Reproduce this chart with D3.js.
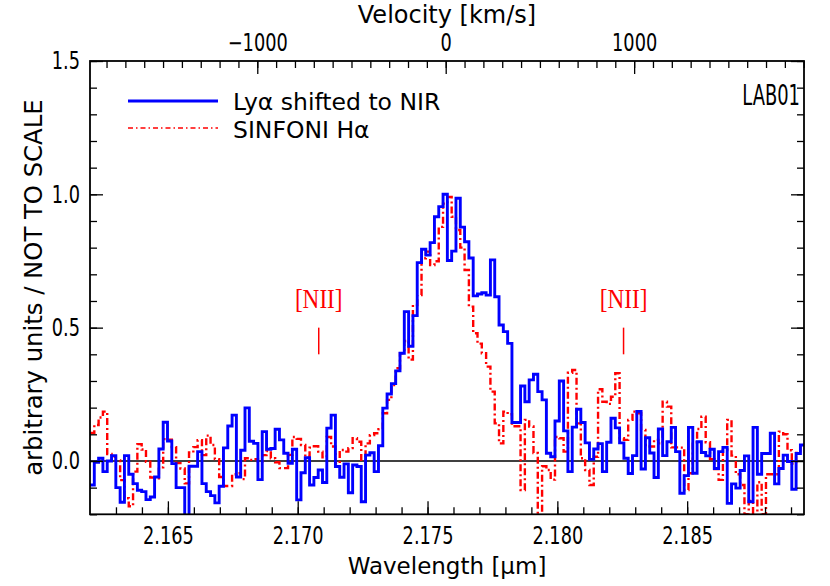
<!DOCTYPE html>
<html><head><meta charset="utf-8">
<script src="https://cdn.jsdelivr.net/npm/d3@7"></script>
<style>
body{margin:0;background:#fff;}
svg{display:block;}
text{font-family:"DejaVu Sans",sans-serif;}
</style></head><body>
<svg id="c" width="830" height="586"></svg>
<script>
// ---------------- data ----------------
const binStart = 2.162;       // μm, left edge of first bin
const binStep = 0.00016583;   // μm per bin
const lyaValues = [
 -0.09,-0.005,0.01,-0.04,0.0,0.02,-0.10,-0.155,0.02,-0.05,
 -0.085,-0.11,-0.115,-0.145,-0.135,-0.06,0.045,0.145,0.075,-0.01,
 -0.10,-0.10,-0.25,-0.02,-0.02,0.035,-0.085,-0.115,-0.13,-0.157,
 -0.095,0.049,0.131,0.172,-0.06,0.04,0.199,0.074,0.066,-0.07,
 0.11,0.044,0.047,0.119,0.079,0.029,-0.009,0.044,-0.146,-0.044,
 0.012,-0.09,-0.062,-0.034,-0.081,0.123,0.172,-0.021,-0.061,-0.011,
 -0.119,-0.015,-0.021,-0.153,0.022,0.031,-0.04,0.057,0.198,0.251,
 0.29,0.338,0.404,0.56,0.43,0.545,0.744,0.794,0.772,0.819,
 0.916,0.954,1.0,0.752,0.787,0.985,0.877,0.822,0.761,0.619,
 0.626,0.631,0.622,0.754,0.616,0.51,0.485,0.441,0.144,0.144,
 0.281,0.222,0.304,0.325,0.26,0.229,0.029,0.016,0.15,0.3,
 0.113,-0.04,0.127,0.194,0.144,0.068,0.006,0.045,0.065,-0.04,
 0.07,0.16,0.124,0.068,0.01,-0.047,0.02,0.186,-0.03,0.087,
 0.03,-0.062,0.12,0.02,0.072,0.126,0.035,-0.121,-0.055,0.126,
 -0.046,0.072,0.032,0.019,0.044,-0.028,0.035,0.051,-0.159,-0.086,
 -0.102,-0.036,0.019,-0.153,0.126,-0.05,0.028,0.028,0.104,-0.086,
 -0.028,0.022,-0.002,-0.106,0.028,0.06
];
const haValues = [
 0.105,0.135,0.163,0.185,0.026,0.016,0.002,-0.072,-0.14,-0.17,
 -0.04,0.063,0.043,-0.003,-0.062,-0.065,-0.024,0.082,0.08,0.052,
 -0.008,-0.028,-0.084,0.032,0.052,0.078,0.022,0.095,0.06,0.007,
 -0.06,-0.094,-0.094,-0.05,-0.046,-0.068,0.01,0.004,0.007,-0.003,
 0.022,0.037,0.01,-0.005,-0.027,-0.027,0.023,0.09,0.083,0.06,
 0.016,0.05,0.055,0.035,0.014,0.09,0.054,-0.009,0.041,0.035,
 0.048,0.085,0.072,0.0,0.066,0.097,0.104,0.119,0.179,0.229,
 0.285,0.348,0.404,0.45,0.38,0.585,0.622,0.76,0.785,0.735,
 0.749,0.878,0.965,0.99,0.916,0.866,0.8,0.716,0.579,0.479,
 0.44,0.404,0.354,0.26,0.141,0.066,0.185,0.175,0.13,0.13,
 -0.109,0.154,0.129,0.03,-0.22,-0.02,-0.034,-0.07,0.09,0.085,
 0.035,0.331,0.341,0.141,0.01,-0.034,-0.09,0.016,0.269,0.222,
 0.214,0.241,0.329,0.085,0.079,0.154,0.185,0.179,0.116,0.06,
 0.054,0.079,0.066,0.222,0.204,0.051,0.051,0.05,-0.109,-0.046,
 0.07,0.12,0.166,0.07,0.007,-0.03,-0.071,0.041,0.154,0.02,
 -0.05,-0.09,-0.2,-0.15,-0.22,-0.08,-0.2,-0.05,-0.05,-0.05,
 0.11,0.1,0.04,-0.01,0.03,0.06
];
const xDomain = [2.162, 2.1895];
const yDomain = [-0.2, 1.5];
const lambdaRest = 2.1757;          // μm, velocity zero
const xMajorTicks = [2.165, 2.170, 2.175, 2.180, 2.185];
const yMajorTicks = [0.0, 0.5, 1.0, 1.5];
const vMajorTicks = [-1000, 0, 1000];
const niiLines = [2.17081, 2.18255];
const seriesNames = ["Ly\u03b1 shifted to NIR", "SINFONI H\u03b1"];

// ---------------- layout ----------------
const svg = d3.select("#c");
const L = 90, R = 804, T = 61, B = 514.3;
const x = d3.scaleLinear().domain(xDomain).range([L, R]);
const y = d3.scaleLinear().domain(yDomain).range([B, T]);
const cLight = 299792.458;
const xv = d3.scaleLinear()
  .domain(xDomain.map(l => (l / lambdaRest - 1) * cLight))
  .range([L, R]);

svg.append("defs").append("clipPath").attr("id","clip").append("rect")
  .attr("x", L).attr("y", T).attr("width", R - L).attr("height", B - T);

function stepPoints(vals) {
  const pts = vals.map((v, i) => [binStart + i * binStep, v]);
  pts.push([binStart + vals.length * binStep, vals[vals.length - 1]]);
  return pts;
}
const line = d3.line().x(d => x(d[0])).y(d => y(d[1])).curve(d3.curveStepAfter);

const plot = svg.append("g").attr("clip-path", "url(#clip)");
plot.append("line").attr("x1", L).attr("x2", R).attr("y1", y(0)).attr("y2", y(0))
  .attr("stroke", "#000").attr("stroke-width", 1.5);
plot.append("path").datum(stepPoints(haValues)).attr("d", line)
  .attr("fill", "none").attr("stroke", "#ff0000").attr("stroke-width", 2.4)
  .attr("stroke-dasharray", "7,3,2,3");
plot.append("path").datum(stepPoints(lyaValues)).attr("d", line)
  .attr("fill", "none").attr("stroke", "#0000ff").attr("stroke-width", 2.9);

// ---------------- axes ----------------
const axisStyle = g => { g.select(".domain").remove(); g.selectAll("line").attr("stroke", "#000").attr("stroke-width", 1.3); };
const fs = 24;        // font size for all axis text
const numScale = 0.74; // narrow digits
const xMinor = d3.range(2163, 2190).map(v => v / 1000);
const yMinor = d3.range(-2, 16).map(v => v / 10);
const vMinor = d3.range(-1800, 2000, 100);
const labelStyle = g => { g.select(".domain").remove();
  g.selectAll("text").attr("font-size", fs).attr("fill", "#000").attr("font-family", null)
   .attr("transform", `scale(${numScale},1)`); };

svg.append("g").attr("transform", `translate(0,${B})`).call(d3.axisTop(x).tickValues(xMinor).tickSize(7).tickFormat("")).call(axisStyle);
svg.append("g").attr("transform", `translate(0,${B})`).call(d3.axisTop(x).tickValues(xMajorTicks).tickSize(13).tickFormat("")).call(axisStyle);
svg.append("g").attr("transform", `translate(0,${B})`)
  .call(d3.axisBottom(x).tickValues(xMajorTicks).tickSize(0).tickPadding(13).tickFormat(d3.format(".3f")))
  .call(labelStyle);

svg.append("g").attr("transform", `translate(0,${T})`).call(d3.axisBottom(xv).tickValues(vMinor).tickSize(7).tickFormat("")).call(axisStyle);
svg.append("g").attr("transform", `translate(0,${T})`).call(d3.axisBottom(xv).tickValues(vMajorTicks).tickSize(13).tickFormat("")).call(axisStyle);
svg.append("g").attr("transform", `translate(0,${T})`)
  .call(d3.axisTop(xv).tickValues(vMajorTicks).tickSize(0).tickPadding(10).tickFormat(d => d < 0 ? "\u2212" + Math.abs(d) : String(d)))
  .call(labelStyle);

svg.append("g").attr("transform", `translate(${L},0)`).call(d3.axisRight(y).tickValues(yMinor).tickSize(7).tickFormat("")).call(axisStyle);
svg.append("g").attr("transform", `translate(${L},0)`).call(d3.axisRight(y).tickValues(yMajorTicks).tickSize(13).tickFormat("")).call(axisStyle);
svg.append("g").attr("transform", `translate(${L},0)`)
  .call(d3.axisLeft(y).tickValues(yMajorTicks).tickSize(0).tickPadding(10 / numScale).tickFormat(d3.format(".1f")))
  .call(labelStyle);
svg.append("g").attr("transform", `translate(${R},0)`).call(d3.axisLeft(y).tickValues(yMinor).tickSize(7).tickFormat("")).call(axisStyle);
svg.append("g").attr("transform", `translate(${R},0)`).call(d3.axisLeft(y).tickValues(yMajorTicks).tickSize(13).tickFormat("")).call(axisStyle);

svg.append("rect").attr("x", L).attr("y", T).attr("width", R - L).attr("height", B - T)
  .attr("fill", "none").attr("stroke", "#000").attr("stroke-width", 1.8);

// titles
svg.append("text").attr("x", (L + R) / 2).attr("y", 574).attr("text-anchor", "middle").attr("font-size", 23).text("Wavelength [\u03bcm]");
svg.append("text").attr("x", (L + R) / 2).attr("y", 23).attr("text-anchor", "middle").attr("font-size", fs).text("Velocity [km/s]");
svg.append("text").attr("transform", `translate(42,${(T + B) / 2}) rotate(-90)`).attr("text-anchor", "middle").attr("font-size", 24.3).text("arbitrary units / NOT TO SCALE");

// legend
const lg = svg.append("g");
lg.append("line").attr("x1", 128).attr("x2", 218).attr("y1", 101).attr("y2", 101).attr("stroke", "#0000ff").attr("stroke-width", 2.9);
lg.append("line").attr("x1", 128).attr("x2", 218).attr("y1", 128).attr("y2", 128).attr("stroke", "#ff0000").attr("stroke-width", 1.7).attr("stroke-dasharray", "5,3,1.5,3");
lg.append("text").attr("x", 233).attr("y", 110).attr("font-size", 23.5).text(seriesNames[0]);
lg.append("text").attr("x", 233).attr("y", 137.5).attr("font-size", 23.5).text(seriesNames[1]);
svg.append("text").attr("transform", "translate(800,105) scale(0.64,1)").attr("text-anchor", "end").attr("font-size", 28).text("LAB01");

// [NII] markers
niiLines.forEach(l => {
  svg.append("line").attr("x1", x(l)).attr("x2", x(l)).attr("y1", y(0.40)).attr("y2", y(0.50))
    .attr("stroke", "#ff0000").attr("stroke-width", 1.5);
  svg.append("text").attr("transform", `translate(${x(l)},${y(0.575)}) scale(0.86,1)`).attr("text-anchor", "middle")
    .attr("font-size", 27).attr("fill", "#ff0000").style("font-family", "'Liberation Serif','DejaVu Serif',serif").text("[NII]");
});
</script></body></html>
